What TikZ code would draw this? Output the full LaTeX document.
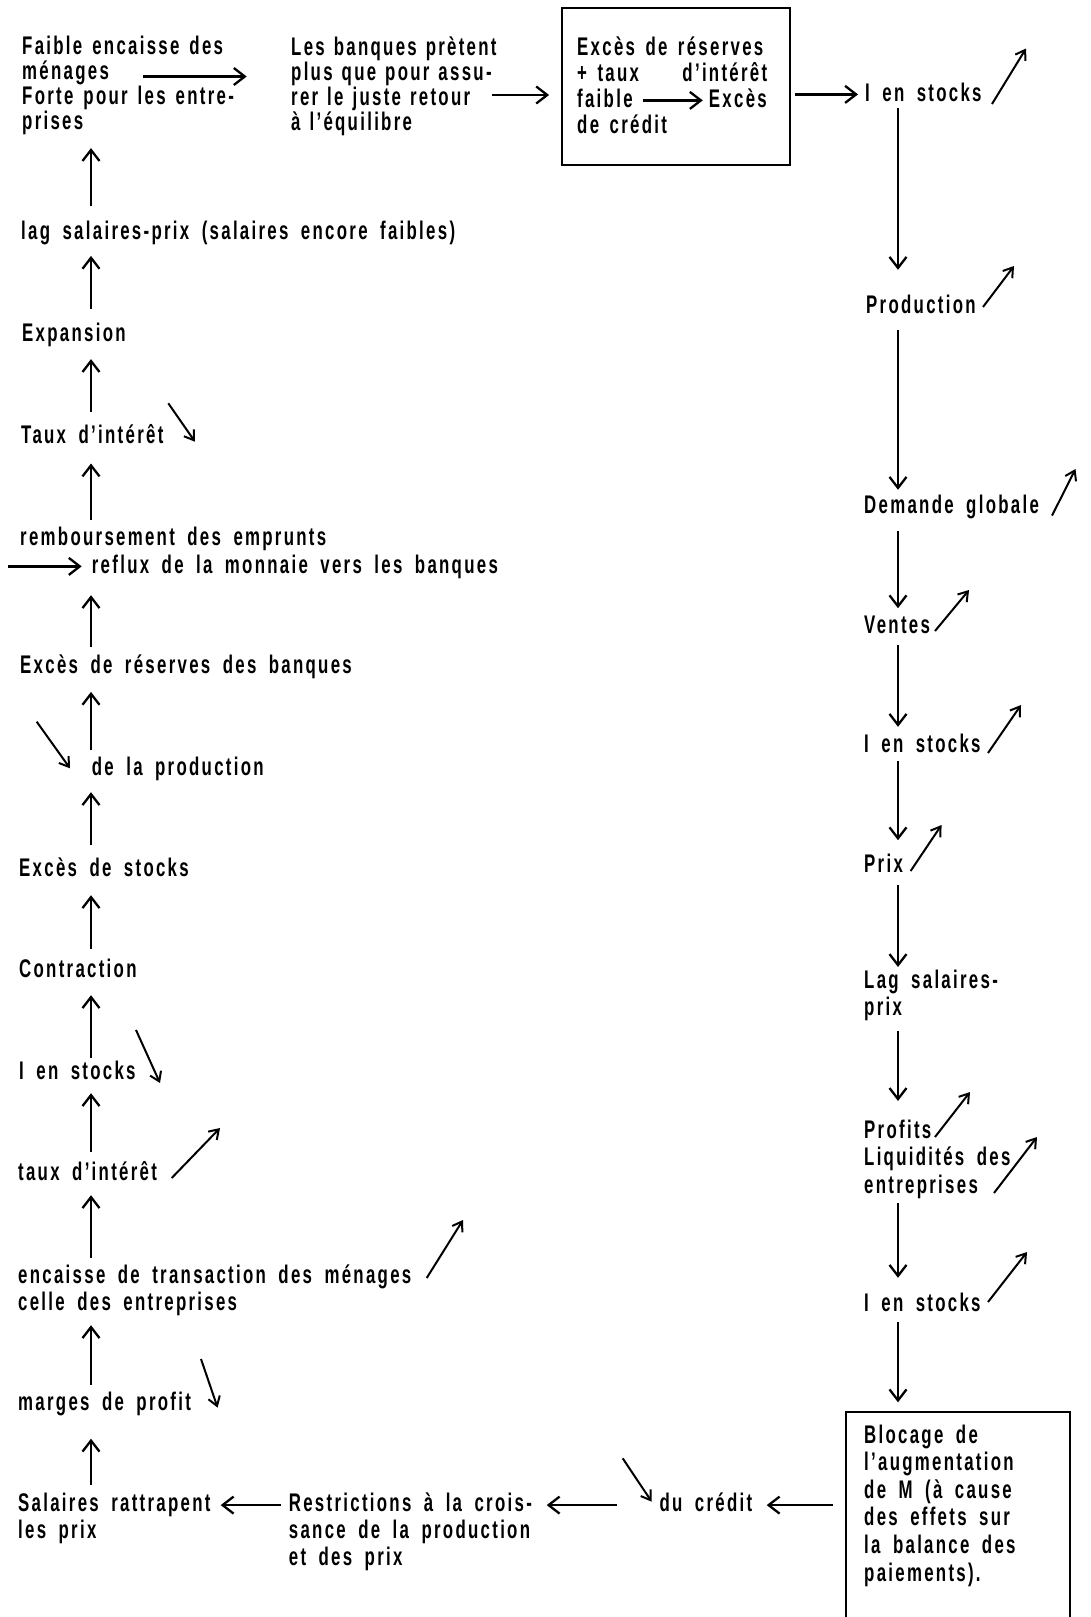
\documentclass[tikz,border=0pt]{standalone}
\usepackage{fontspec}
\newfontfamily\mainf{Liberation Sans}[FakeStretch=0.66,LetterSpace=9]
\usetikzlibrary{arrows.meta}
\newcommand\dfont{\mainf\bfseries\fontsize{25.5}{27}\selectfont\spaceskip=12.5pt\relax}
\newcommand\dfontA{\mainf\bfseries\fontsize{25.5}{25}\selectfont\spaceskip=10pt\relax}
\newcommand\dfontN{\mainf\bfseries\fontsize{25.5}{25}\selectfont\spaceskip=9pt\relax}
\newcommand\dfontB{\mainf\bfseries\fontsize{25.5}{27.5}\selectfont\spaceskip=12.5pt\relax}
\newcommand\dfontC{\mainf\bfseries\fontsize{25.5}{27.6}\selectfont\spaceskip=12.5pt\relax}
\newcommand\dfontX{\mainf\bfseries\fontsize{25.5}{27}\selectfont\spaceskip=10.5pt\relax}
\tikzset{
  txt/.style={inner sep=0pt, anchor=west, align=left, font=\dfont},
  one/.style={inner sep=0pt, anchor=base west, text height=18.6pt, text depth=5.4pt, font=\dfont},
  arr/.style={line width=2.3pt, -{Straight Barb[length=11pt,width=17pt]}},
  diag/.style={line width=2pt, -{Straight Barb[length=9pt,width=12pt]}},
  boxed/.style={draw, line width=1.8pt, inner sep=0pt},
}
\begin{document}
\begin{tikzpicture}[x=1pt,y=-1pt]
\fill[white] (0,0) rectangle (1090,1617);
\path[use as bounding box] (0,0) rectangle (1090,1617);
\coordinate (cL) at (91,0);
\coordinate (cR) at (898,0);

% ---- top row ----
\node[txt, font=\dfontA] (TL) at (22,85.9) {Faible encaisse des\\ménages\\Forte pour les entre-\\prises};
\node[txt, font=\dfontN] (TM) at (291,85.9) {Les banques prètent\\plus que pour assu-\\rer le juste retour\\à l’équilibre};
\node[boxed, minimum width=228pt, minimum height=157pt] (box1) at (676,86.5) {};
\node[one, font=\dfontX] (b1l1) at (577,55) {Excès de réserves};
\node[one, font=\dfontX] (b1l2) at (577,81) {\makebox[190pt][l]{+ taux\hfill d’intérêt}};
\node[one] (faible) at (577,107) {faible};
\node[one, anchor=base east] (exces) at (767,107) {Excès};
\node[one, font=\dfontX] (b1l4) at (577,133) {de crédit};
\coordinate (a1) at (143,76.5);
\coordinate (a2) at (492,95);
\draw[arr, shorten >=44.3pt] (a1) -- (TM.west |- a1);
\draw[arr, shorten >=12pt] (a2) -- (box1.west |- a2);
\draw[arr, shorten <=9.7pt, shorten >=6pt] (faible.east) -- (exces.west);

% ---- right column ----
\node[one] (stA) at (865,101) {I en stocks};
\node[one] (prod) at (866,313.3) {Production};
\node[one] (dem) at (864,513) {Demande globale};
\node[one] (ventes) at (864,633) {Ventes};
\node[one] (stB) at (864,752) {I en stocks};
\node[one] (prix) at (864,872) {Prix};
\node[txt, font=\dfontB] (lag) at (864,995.2) {Lag salaires-\\prix};
\node[txt, font=\dfontB] (profits) at (864,1158.9) {Profits\\Liquidités des\\entreprises};
\node[one] (stC) at (864,1311) {I en stocks};
\node[inner sep=0pt, minimum width=224pt, minimum height=205pt] (box2) at (958,1514.5) {};
\draw[line width=1.8pt] (box2.south west) -- (box2.north west) -- (box2.north east) -- (box2.south east);
\node[txt, font=\dfontC] (box2t) at (864,1505.4) {Blocage de\\l’augmentation\\de M (à cause\\des effets sur\\la balance des\\paiements).};

\draw[arr, shorten <=4pt, shorten >=7pt] (box1.east |- stA) -- (stA.west);
\draw[arr, shorten <=1.6pt, shorten >=24.7pt] (stA.south -| cR) -- (prod.north -| cR);
\draw[arr, shorten <=11.3pt, shorten >=4.4pt] (prod.south -| cR) -- (dem.north -| cR);
\draw[arr, shorten <=12.6pt, shorten >=6pt] (dem.south -| cR) -- (ventes.north -| cR);
\draw[arr, shorten <=6.1pt, shorten >=6.4pt] (ventes.south -| cR) -- (stB.north -| cR);
\draw[arr, shorten <=3.6pt, shorten >=13pt] (stB.south -| cR) -- (prix.north -| cR);
\draw[arr, shorten <=7.6pt, shorten >=2.4pt] (prix.south -| cR) -- (lag.north -| cR);
\draw[arr, shorten <=10.1pt, shorten >=18.4pt] (lag.south -| cR) -- (profits.north -| cR);
\draw[arr, shorten <=4.6pt, shorten >=14.4pt] (profits.south -| cR) -- (stC.north -| cR);
\draw[arr, shorten <=5.6pt, shorten >=9.5pt] (stC.south -| cR) -- (box2.north -| cR);

% ---- bottom row ----
\node[one] (credit) at (659.3,1511.7) {du crédit};
\node[txt] (restr) at (288.7,1532.1) {Restrictions à la crois-\\sance de la production\\et des prix};
\node[txt] (sal) at (18,1518.6) {Salaires rattrapent\\les prix};
\draw[arr] ([xshift=-13pt]box2.west |- credit) -- ([xshift=107.4pt]credit.west);
\draw[arr] ([xshift=-42.6pt]credit.west) -- ([xshift=258pt]restr.west |- credit);
\draw[arr] ([xshift=-8.2pt]restr.west |- credit) -- ([xshift=202.7pt]sal.west |- credit);

% ---- left column ----
\node[one] (lagL) at (21,239) {lag salaires-prix (salaires encore faibles)};
\node[one] (exp) at (22,341.7) {Expansion};
\node[one] (taux) at (21,443) {Taux d’intérêt};
\node[one] (remb) at (20,545) {remboursement des emprunts};
\node[one] (reflux) at (91.7,573) {reflux de la monnaie vers les banques};
\node[one] (res) at (20,673.3) {Excès de réserves des banques};
\node[one] (delap) at (91.7,775) {de la production};
\node[one] (exst) at (19,876) {Excès de stocks};
\node[one] (contr) at (19,977) {Contraction};
\node[one] (stL) at (19,1079) {I en stocks};
\node[one] (taux2) at (18,1180) {taux d’intérêt};
\node[txt] (enc) at (18,1290.2) {encaisse de transaction des ménages\\celle des entreprises};
\node[one] (marges) at (18,1410) {marges de profit};
\coordinate (a3) at (8.3,566.4);
\draw[arr, shorten >=10pt] (a3) -- (reflux.west);

\draw[arr, shorten <=8.1pt, shorten >=23.1pt] (sal.north -| cL) -- (marges.south -| cL);
\draw[arr, shorten <=6.4pt, shorten >=9.3pt] (marges.north -| cL) -- (enc.south -| cL);
\draw[arr, shorten <=6.7pt, shorten >=9.6pt] (enc.north -| cL) -- (taux2.south -| cL);
\draw[arr, shorten <=9.7pt, shorten >=8.6pt] (taux2.north -| cL) -- (stL.south -| cL);
\draw[arr, shorten <=2pt, shorten >=12.6pt] (stL.north -| cL) -- (contr.south -| cL);
\draw[arr, shorten <=9.7pt, shorten >=13.6pt] (contr.north -| cL) -- (exst.south -| cL);
\draw[arr, shorten <=11.8pt, shorten >=11.6pt] (exst.north -| cL) -- (delap.south -| cL);
\draw[arr, shorten <=6.4pt, shorten >=13pt] (delap.north -| cL) -- (res.south -| cL);
\draw[arr, shorten <=8pt, shorten >=16.6pt] (res.north -| cL) -- (reflux.south -| cL);
\draw[arr, shorten <=6.4pt, shorten >=14.9pt] (remb.north -| cL) -- (taux.south -| cL);
\draw[arr, shorten <=11.9pt, shorten >=11.8pt] (taux.north -| cL) -- (exp.south -| cL);
\draw[arr, shorten <=13.7pt, shorten >=11.3pt] (exp.north -| cL) -- (lagL.south -| cL);
\draw[arr, shorten <=14.2pt, shorten >=12.6pt] (lagL.north -| cL) -- (TL.south -| cL);

% ---- trend arrows ----
\draw[diag] (992,104) -- (1026,48.5);
\draw[diag] (983,307) -- (1014,266);
\draw[diag] (1052,515.6) -- (1075.5,469);
\draw[diag] (935,631) -- (969,590);
\draw[diag] (988,753) -- (1021,705);
\draw[diag] (910.6,871) -- (941.5,825);
\draw[diag] (935,1137) -- (970,1092);
\draw[diag] (994,1193) -- (1037,1137);
\draw[diag] (988,1302) -- (1027,1252);
\draw[diag] (622.7,1458.3) -- (651.7,1501.7);
\draw[diag] (201,1359) -- (217.6,1407.6);
\draw[diag] (426.7,1278) -- (463,1220);
\draw[diag] (171.7,1178) -- (220,1128);
\draw[diag] (136,1030) -- (160,1083);
\draw[diag] (36.7,721.7) -- (70,768.3);
\draw[diag] (168.3,403.3) -- (195,441.7);
\end{tikzpicture}
\end{document}
